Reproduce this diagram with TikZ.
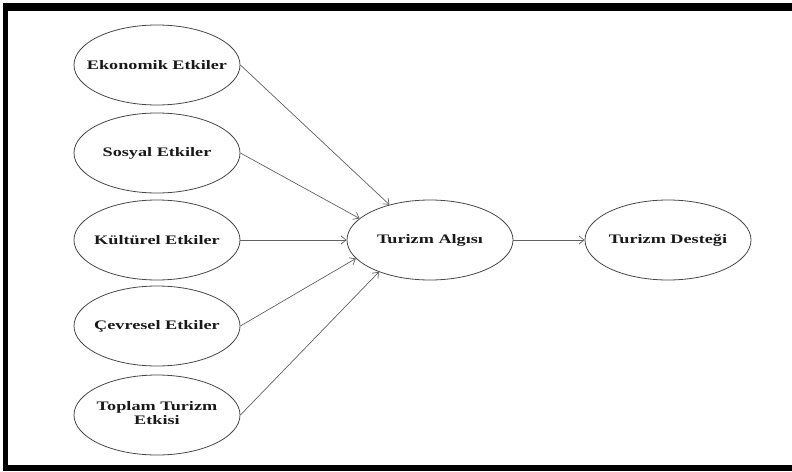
\documentclass[tikz,border=0pt]{standalone}
\usepackage{fontspec}
\usepackage{graphicx}
\setmainfont{Liberation Serif}
\usetikzlibrary{shapes.geometric,arrows.meta}
\newcommand{\wtxt}[1]{\makebox[0pt][c]{\scalebox{1.4}[1]{#1}}}
\tikzset{
  ell/.style={ellipse, draw=black!72, line width=0.8pt, minimum width=166pt, minimum height=80pt, inner sep=0pt,
    font=\fontsize{13}{14}\selectfont\bfseries, text=black!90},
  arr/.style={draw=black!62, line width=0.7pt, -{Straight Barb[length=5pt,width=8pt]}},
  frame/.style={fill=black}
}
\begin{document}
\begin{tikzpicture}[x=1pt,y=-1pt]
\useasboundingbox (0,0) rectangle (792,471);
\fill[frame] (3,3) rectangle (792,11);
\fill[frame] (3,3) rectangle (8,471);
\fill[frame] (3,465) rectangle (792,471);

\node[ell] (eko) at (157,65) {\wtxt{Ekonomik Etkiler}};
\node[ell] (sos) at (157,153) {\wtxt{Sosyal Etkiler}};
\node[ell] (kul) at (157,240) {\wtxt{Kültürel Etkiler}};
\node[ell] (cev) at (157,326) {\wtxt{Çevresel Etkiler}};
\node[ell] (top) at (157,415) {\wtxt{\begin{tabular}{@{}c@{}}Toplam Turizm\\Etkisi\end{tabular}}};
\node[ell] (alg) at (430,240) {\wtxt{Turizm Algısı}};
\node[ell] (des) at (668,240) {\wtxt{Turizm Desteği}};

\draw[arr] (eko.east) -- (alg.139);
\draw[arr] (sos.east) -- (alg.163);
\draw[arr] (kul.east) -- (alg.west);
\draw[arr] (cev.east) -- (alg.194);
\draw[arr] (top.east) -- (alg.212);
\draw[arr] (alg.east) -- (des.west);
\end{tikzpicture}
\end{document}
